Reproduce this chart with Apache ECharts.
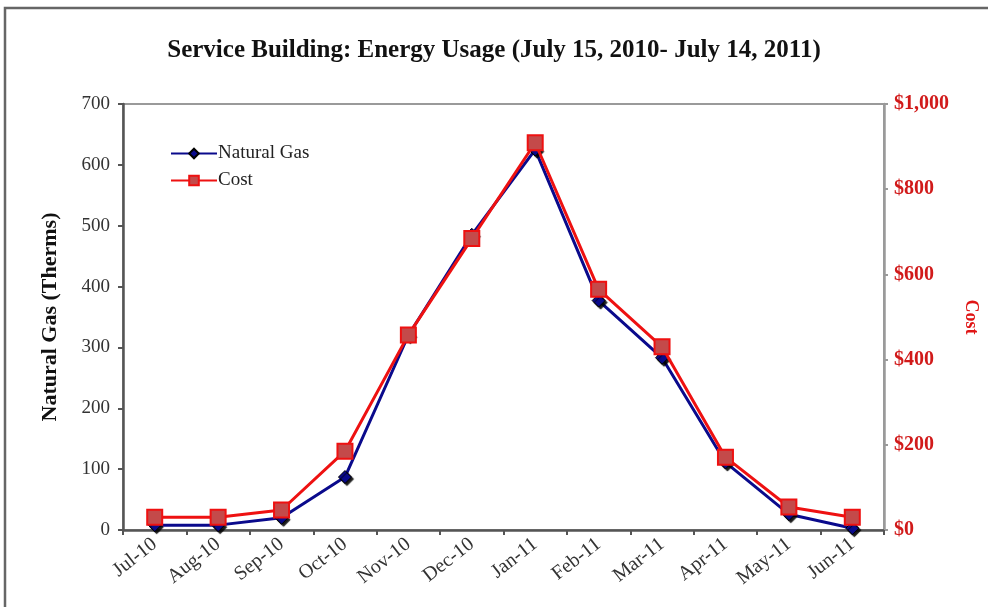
<!DOCTYPE html>
<html>
<head>
<meta charset="utf-8">
<script src="https://cdn.jsdelivr.net/npm/echarts@6/dist/echarts.min.js"></script>
<style>
  html, body { margin: 0; padding: 0; background: #fff; }
  #chart { width: 988px; height: 607px; }
</style>
</head>
<body>
<div id="chart"></div>
<script>
// Monthly categories
const months = ['Jul-10', 'Aug-10', 'Sep-10', 'Oct-10', 'Nov-10', 'Dec-10',
                'Jan-11', 'Feb-11', 'Mar-11', 'Apr-11', 'May-11', 'Jun-11'];
// Natural gas usage, therms
const naturalGas = [8, 8, 20, 87, 320, 485, 625, 377, 283, 111, 26, 3];
// Cost, dollars
const cost = [30, 30, 47, 185, 458, 684, 909, 565, 430, 171, 54, 30];
// Axis tick settings
const gasTicks = { min: 0, max: 700, interval: 100 };
const costTicks = { min: 0, max: 1000, interval: 200 };

const serif = '"Liberation Serif", "Times New Roman", serif';
const chart = echarts.init(document.getElementById('chart'));

chart.setOption({
  backgroundColor: '#fff',
  animation: false,
  title: {
    text: 'Service Building: Energy Usage (July 15, 2010- July 14, 2011)',
    left: 'center',
    top: 33,
    textStyle: { fontFamily: serif, fontWeight: 'bold', fontSize: 25, color: '#111' }
  },
  legend: {
    orient: 'vertical',
    left: 165,
    top: 139,
    itemWidth: 46,
    itemHeight: 12,
    itemGap: 8,
    textStyle: { fontFamily: serif, fontSize: 19, color: '#222', padding: [0, 0, 0, -4] },
    data: ['Natural Gas', 'Cost']
  },
  grid: { left: 123, right: 100, top: 104, bottom: 77, show: true, borderColor: '#9a9a9a', borderWidth: 2 },
  xAxis: {
    type: 'category',
    data: months,
    boundaryGap: true,
    axisLine: { lineStyle: { color: '#555', width: 2.5 } },
    axisTick: { show: true, length: 5, lineStyle: { color: '#555', width: 2 } },
    axisLabel: { rotate: 38, fontFamily: serif, fontSize: 20, color: '#333', margin: 12 }
  },
  yAxis: [
    {
      type: 'value',
      min: gasTicks.min, max: gasTicks.max, interval: gasTicks.interval,
      name: 'Natural Gas (Therms)',
      nameLocation: 'middle',
      nameGap: 62,
      nameTextStyle: { fontFamily: serif, fontWeight: 'bold', fontSize: 22, color: '#111' },
      axisLine: { show: true, lineStyle: { color: '#555', width: 2.5 } },
      axisTick: { show: true, length: 5, lineStyle: { color: '#555', width: 2 } },
      axisLabel: { fontFamily: serif, fontSize: 19, color: '#333', margin: 13 },
      splitLine: { show: false }
    },
    {
      type: 'value',
      min: costTicks.min, max: costTicks.max, interval: costTicks.interval,
      position: 'right',
      name: 'Cost',
      nameLocation: 'middle',
      nameGap: 78,
      nameRotate: -90,
      nameTextStyle: { fontFamily: serif, fontWeight: 'bold', fontSize: 18, color: '#e01515' },
      axisLine: { show: true, lineStyle: { color: '#9a9a9a', width: 2.5 } },
      axisTick: { show: true, length: 4, lineStyle: { color: '#9a9a9a', width: 2 } },
      axisLabel: {
        fontFamily: serif, fontWeight: 'bold', fontSize: 20, color: '#d11a1a', margin: 10,
        formatter: v => '$' + v.toLocaleString('en-US')
      },
      splitLine: { show: false }
    }
  ],
  series: [
    {
      name: 'Natural Gas',
      type: 'line',
      yAxisIndex: 0,
      data: naturalGas,
      symbol: 'diamond',
      symbolSize: 13,
      lineStyle: { color: '#0a0a8c', width: 3 },
      itemStyle: { color: '#0a0a8c', borderColor: '#000', borderWidth: 1,
                   shadowColor: 'rgba(0,0,0,0.9)', shadowOffsetX: 2, shadowOffsetY: 2, shadowBlur: 1 },
      z: 2
    },
    {
      name: 'Cost',
      type: 'line',
      yAxisIndex: 1,
      data: cost,
      symbol: 'rect',
      symbolSize: 15,
      lineStyle: { color: '#ee1111', width: 3 },
      itemStyle: { color: '#c44a4a', borderColor: '#ee1111', borderWidth: 2 },
      z: 3
    }
  ],
  graphic: [
    {
      type: 'rect',
      shape: { x: 5, y: 8, width: 990, height: 620 },
      style: { fill: 'none', stroke: '#666', lineWidth: 2.5 },
      silent: true
    }
  ]
});
</script>
</body>
</html>
